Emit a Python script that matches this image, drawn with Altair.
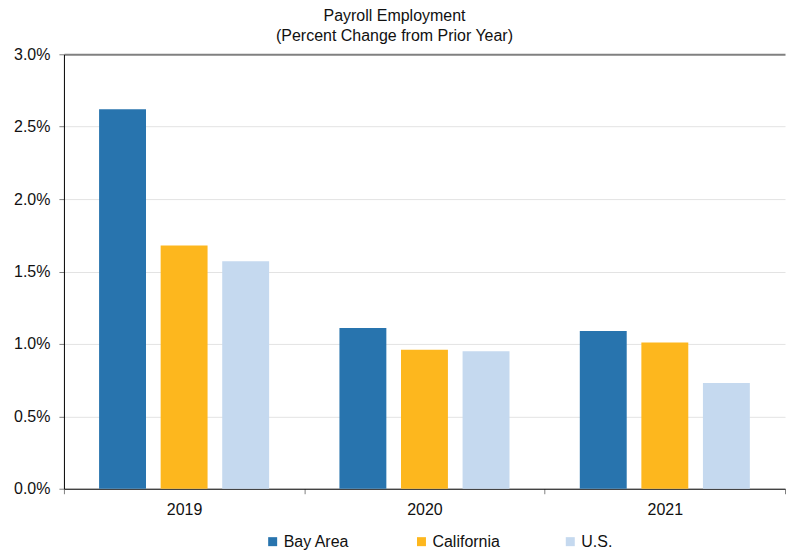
import altair as alt
import pandas as pd

years = ["2019", "2020", "2021"]
regions = ["Bay Area", "California", "U.S."]
bay_area = [2.62, 1.11, 1.09]
california = [1.68, 0.96, 1.01]
us = [1.57, 0.95, 0.73]
colors = ["#2874ae", "#fdb71e", "#c5d9ef"]
y_ticks = [0.0, 0.5, 1.0, 1.5, 2.0, 2.5, 3.0]

rows = []
for series, name in zip([bay_area, california, us], regions):
    for yr, v in zip(years, series):
        rows.append({"year": yr, "region": name, "value": v})
df = pd.DataFrame(rows)

FONT = "Liberation Sans"

chart = alt.Chart(df).mark_bar().encode(
    x=alt.X("year:N", sort=years,
            scale=alt.Scale(paddingInner=0, paddingOuter=0),
            axis=alt.Axis(title=None, labelAngle=0, tickBand="extent",
                          domainColor="#000000", tickColor="#808080",
                          tickSize=5, labelPadding=8, grid=False)),
    xOffset=alt.XOffset("region:N", sort=regions,
                        scale=alt.Scale(paddingInner=0.238, paddingOuter=0.571)),
    y=alt.Y("value:Q", scale=alt.Scale(domain=[0, 3]),
            axis=alt.Axis(title=None, values=y_ticks,
                          labelExpr="format(datum.value, '.1f') + '%'",
                          domainColor="#000000", tickColor="#808080",
                          tickSize=5, labelPadding=9, minExtent=56,
                          gridColor={"condition": {"test": "datum.value >= 3", "value": "#808080"}, "value": "#e3e3e3"},
                          gridWidth={"condition": {"test": "datum.value >= 3", "value": 2}, "value": 1})),
    color=alt.Color("region:N", sort=regions,
                    scale=alt.Scale(domain=regions, range=colors),
                    legend=alt.Legend(title=None, orient="none", legendX=201, legendY=480,
                                      direction="horizontal", columns=3, gridAlign="all",
                                      columnPadding=62, symbolType="square", symbolSize=81,
                                      symbolStrokeWidth=0, labelOffset=3, labelFontSize=16,
                                      labelFont=FONT, labelColor="#111111")),
).properties(
    width=722,
    height=435,
    padding={"left": 0, "top": 0, "right": 0, "bottom": 0},
    title=alt.TitleParams(["Payroll Employment", "(Percent Change from Prior Year)"],
                          fontSize=16, font=FONT, fontWeight="normal", color="#111111",
                          lineHeight=20, offset=2, dx=-30),
).configure_axis(
    labelFont=FONT, labelFontSize=16, labelColor="#111111",
).configure_view(stroke=None)

chart.save("out.html", embed_options={"renderer": "svg", "actions": False})
